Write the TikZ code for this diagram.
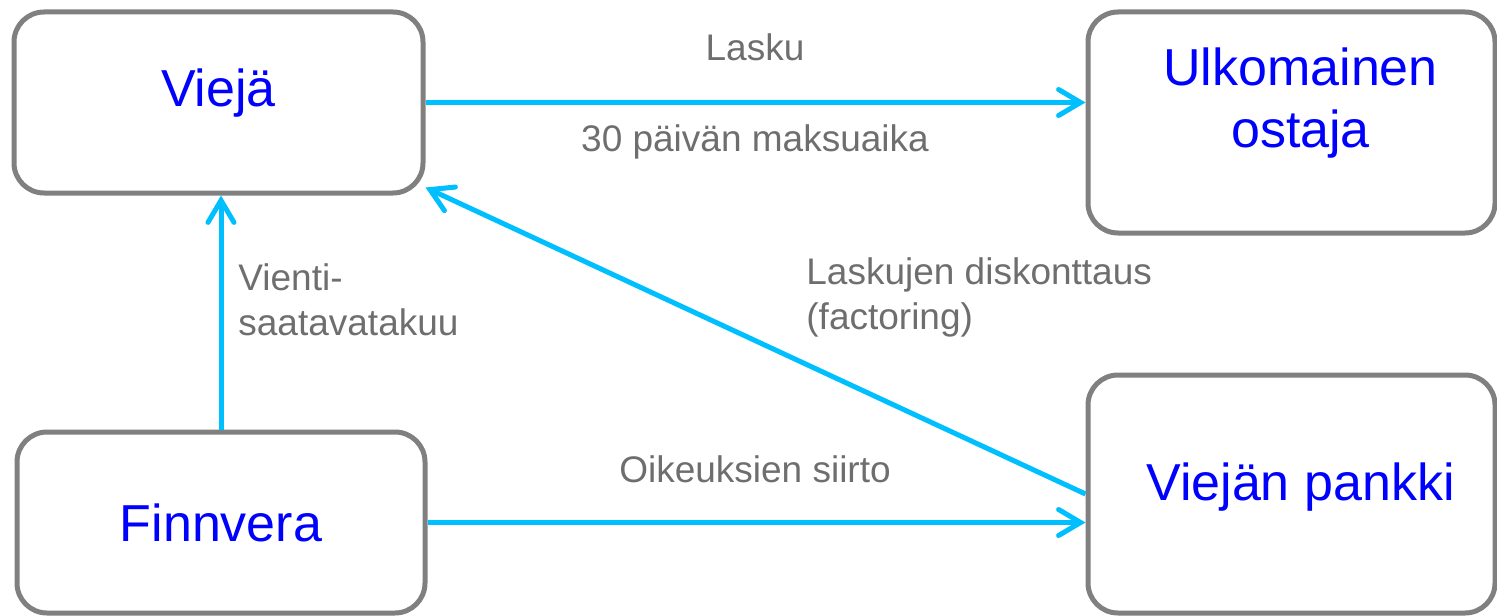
\documentclass[tikz,border=0pt]{standalone}
\usepackage{fontspec}
\setmainfont{Liberation Sans}
\usetikzlibrary{arrows.meta}
\definecolor{boxgray}{RGB}{128,128,128}
\definecolor{labelgray}{RGB}{110,110,110}
\definecolor{flowblue}{RGB}{0,191,255}

\begin{document}
\begin{tikzpicture}[x=0.5pt,y=-0.5pt,
  party/.style={draw=boxgray,line width=2.5pt,rounded corners=15pt},
  partyname/.style={text=blue,align=center,font=\fontsize{26}{31}\selectfont},
  flow/.style={draw=flowblue,line width=2.5pt,
    -{Straight Barb[length=11pt,width=13pt,line cap=round]}},
  note/.style={text=labelgray,font=\fontsize{18.5}{22.5}\selectfont,inner sep=0pt}]
\useasboundingbox (0,0) rectangle (1497,615);

% Boxes
\node[party,minimum width=204.5pt,minimum height=90.5pt] (viejae) at (218.5,102.5) {};
\node[party,minimum width=203.5pt,minimum height=110.5pt] (ostaja) at (1291.5,122.5) {};
\node[party,minimum width=204pt,minimum height=90.5pt] (finnvera) at (221,522.5) {};
\node[party,minimum width=203.5pt,minimum height=119pt] (pankki) at (1291.5,494) {};

% Box texts
\node[partyname] (viejaename) at ([yshift=4.5pt]viejae.center) {Viejä};
\node[partyname] (ostajaname) at ([xshift=4.5pt,yshift=9.5pt]ostaja.center) {Ulkomainen\\ostaja};
\node[partyname] (finnveraname) at (finnvera.center) {Finnvera};
\node[partyname] (pankkiname) at ([xshift=4.5pt,yshift=3.5pt]pankki.center) {Viejän pankki};

% Arrows
\draw[flow] (viejae.east) -- (viejae.east -| ostaja.west);
\draw[flow] (finnvera.north) -- (finnvera.north |- viejae.south);
\draw[flow] (finnvera.east) -- (finnvera.east -| pankki.west);
\draw[flow] (pankki.west) -- ([yshift=4pt]viejae.south east);

% Labels
\node[note] (lasku) at (755,47) {Lasku};
\node[note] (aika) at (755,142) {30 päivän maksuaika};
\node[note,anchor=west,align=left] (takuu) at (238,300) {Vienti-\\saatavatakuu};
\node[note,anchor=west,align=left] (factoring) at (806,297) {Laskujen diskonttaus\\(factoring)};
\node[note] (siirto) at (755,469) {Oikeuksien siirto};
\end{tikzpicture}
\end{document}
